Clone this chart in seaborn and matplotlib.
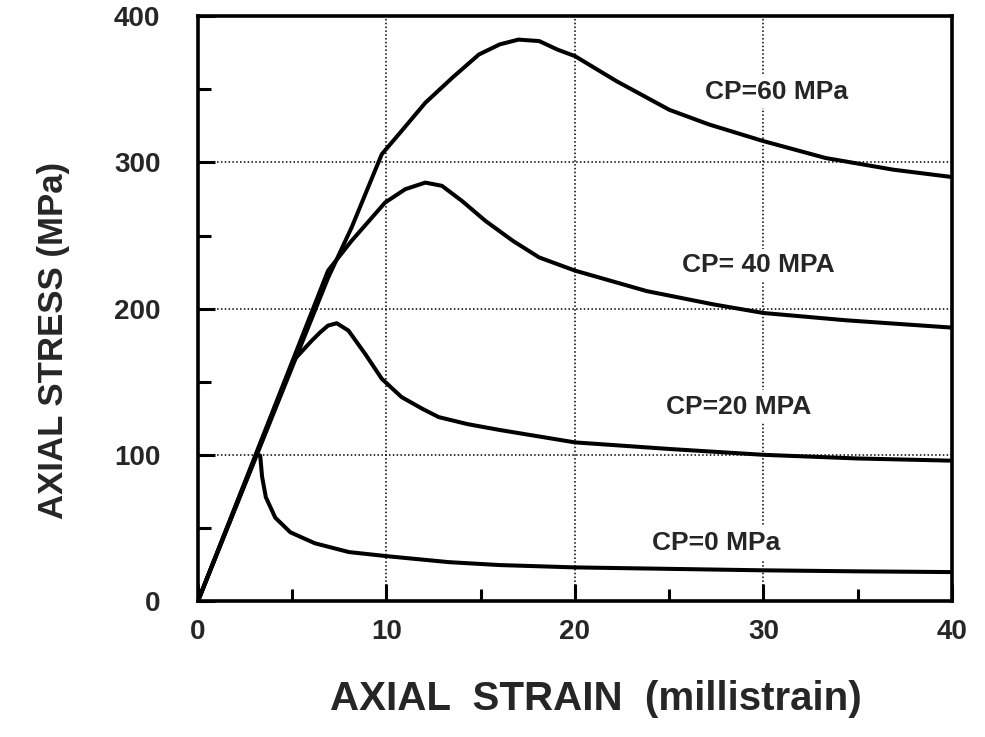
import matplotlib
matplotlib.use("Agg")
import matplotlib.pyplot as plt
import seaborn as sns
import numpy as np
import pandas as pd

# values (strain in millistrain, stress in MPa)
cp0_strain = [0, 3.1, 3.3, 3.4, 3.6, 4.1, 4.9, 6.2, 8.0, 10.0, 13.3, 16.0, 20.0, 25.0, 30.0, 35.0, 40.0]
cp0_stress = [0, 100, 99.5, 85, 71, 57, 47, 39.5, 33.5, 30.7, 26.6, 24.6, 23.0, 22.0, 21.0, 20.3, 19.8]

cp20_strain = [0, 5.1, 6.03, 6.5, 6.9, 7.36, 7.98, 8.87, 9.75, 10.8, 11.9, 12.77, 14.3, 16.0, 20.0, 25.0, 30.0, 35.0, 40.0]
cp20_stress = [0, 165, 178, 184, 188.4, 190, 185, 169, 152, 139.5, 131.5, 125.8, 121, 117, 108.5, 104, 100, 97.5, 96]

cp40_strain = [0, 6.9, 8.15, 9.93, 11.0, 12.06, 12.94, 14.0, 15.25, 16.7, 18.1, 20.0, 23.8, 27.3, 30.0, 34.4, 40.0]
cp40_stress = [0, 226, 246.4, 272.6, 281.7, 286.2, 284, 273.7, 260, 246.4, 235, 226, 212, 203, 197, 192, 187]

cp60_strain = [0, 6.9, 8.15, 9.75, 10.8, 12.06, 13.5, 14.9, 16.0, 17.0, 18.1, 19.1, 20.0, 22.2, 25.0, 27.1, 29.96, 33.3, 36.9, 40.0]
cp60_stress = [0, 221, 255.5, 305.6, 321.5, 340.8, 358, 373.8, 380.7, 384, 383, 377, 372.7, 355.6, 336, 326, 314.7, 303, 295, 290]

labels = ["CP=0 MPa", "CP=20 MPA", "CP= 40 MPA", "CP=60 MPa"]
label_x = [27.5, 28.7, 29.7, 30.7]
label_y = [40, 133, 230, 348]

x_ticks = [0, 10, 20, 30, 40]
y_ticks = [0, 100, 200, 300, 400]

frames = []
for name, xs, ys in zip(labels,
                        [cp0_strain, cp20_strain, cp40_strain, cp60_strain],
                        [cp0_stress, cp20_stress, cp40_stress, cp60_stress]):
    frames.append(pd.DataFrame({"strain": xs, "stress": ys, "series": name}))
df = pd.concat(frames, ignore_index=True)

sns.set_style("white")
plt.rcParams["font.family"] = ["Liberation Sans", "DejaVu Sans"]

fig = plt.figure(figsize=(9.85, 7.37), dpi=100)
ax = fig.add_axes([0.201, 0.1845, 0.7655, 0.7935])

sns.lineplot(data=df, x="strain", y="stress", units="series", estimator=None,
             sort=False, color="black", linewidth=2.9, ax=ax, legend=False)

ax.set_xlim(0, 40)
ax.set_ylim(0, 400)
ax.set_xticks(x_ticks)
ax.set_yticks(y_ticks)
ax.set_xticks([5, 15, 25, 35], minor=True)
ax.set_yticks([50, 150, 250, 350], minor=True)
ax.set_xticklabels([str(t) for t in x_ticks], fontsize=20, fontweight="bold")
ax.set_yticklabels([str(t) for t in y_ticks], fontsize=20, fontweight="bold")
ax.tick_params(which="both", direction="in", width=2.2, color="black",
               bottom=True, left=True, top=False, right=False)
ax.tick_params(which="major", length=12)
ax.tick_params(which="minor", length=9)
ax.tick_params(axis="x", which="major", pad=13)
ax.tick_params(axis="y", which="major", pad=27)

ax.grid(which="major", linestyle=(0, (1, 1.5)), color="black", linewidth=1.1)
for sp in ax.spines.values():
    sp.set_visible(True)
    sp.set_color("black")
    sp.set_linewidth(2.6)

ax.set_xlabel("AXIAL  STRAIN  (millistrain)", fontsize=29, fontweight="bold")
ax.set_ylabel("AXIAL STRESS (MPa)", fontsize=25, fontweight="bold")
ax.xaxis.set_label_coords(0.528, -0.135)
ax.yaxis.set_label_coords(-0.17, 0.446)

for txt, tx, ty in zip(labels, label_x, label_y):
    ax.text(tx, ty, txt, fontsize=19, fontweight="bold", ha="center", va="center",
            zorder=4, bbox=dict(facecolor="white", edgecolor="none", pad=3))

fig.savefig("out.png", dpi=100, facecolor="white")
